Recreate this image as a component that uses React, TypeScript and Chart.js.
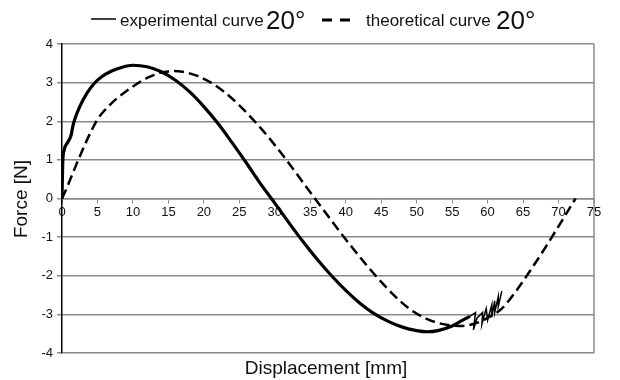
import React, { useEffect, useRef } from "react";
import { Chart, registerables } from "chart.js";
Chart.register(...registerables);

// Experimental curve (smooth part)
const expX = [0, 0.1, 0.3, 0.8, 1.3, 1.5, 1.8, 2.5, 3.5, 4.5, 5.5, 7, 8.5, 10, 12, 14, 16, 18, 20, 22, 24, 26, 28, 30, 32, 34, 36, 38, 40, 42, 44, 46, 48, 50, 51.5, 53, 55, 56.5, 57.5];
const expY = [0, 0.9, 1.25, 1.45, 1.65, 1.85, 2.05, 2.38, 2.72, 2.97, 3.14, 3.3, 3.4, 3.45, 3.41, 3.28, 3.06, 2.76, 2.38, 1.94, 1.44, 0.92, 0.38, -0.12, -0.63, -1.12, -1.58, -2.0, -2.38, -2.71, -2.98, -3.18, -3.33, -3.42, -3.45, -3.42, -3.3, -3.15, -3.05];
// Experimental curve (jagged end)
const hystX = [57.5, 58.3, 58.0, 58.5, 59.3, 59.2, 59.8, 60.0, 60.6, 60.6, 61.0, 61.0, 61.5, 61.5, 62.0];
const hystY = [-3.05, -2.95, -3.4, -3.1, -2.95, -3.25, -2.85, -3.15, -2.75, -3.05, -2.65, -2.95, -2.55, -2.8, -2.4];
// Theoretical curve
const theoX = [0, 0.5, 1, 2, 3, 4, 5, 6, 7, 8, 9, 10, 11, 12, 13, 14, 15, 15.7, 17, 19, 21, 23, 25, 27, 29, 31, 33, 35, 37, 39, 41, 43, 45, 47, 49, 51, 53, 55, 56, 58, 60, 62, 64, 66, 68, 70, 72, 72.4];
const theoY = [0, 0.2, 0.42, 0.87, 1.3, 1.7, 2.05, 2.28, 2.47, 2.63, 2.77, 2.9, 3.02, 3.12, 3.2, 3.26, 3.29, 3.3, 3.28, 3.18, 3.0, 2.74, 2.41, 2.03, 1.61, 1.15, 0.66, 0.16, -0.33, -0.82, -1.29, -1.74, -2.16, -2.54, -2.86, -3.08, -3.22, -3.29, -3.3, -3.25, -3.09, -2.85, -2.4, -1.87, -1.31, -0.72, -0.12, 0];

const xMin = 0, xMax = 75, xStep = 5;
const yMin = -4, yMax = 4, yStep = 1;

const legendExp = "experimental curve";
const legendTheo = "theoretical curve";
const legendAngle = "20°";
const xTitle = "Displacement [mm]";
const yTitle = "Force [N]";

const FONT = "'Liberation Sans', Arial, sans-serif";
const GRID = "#8a8a8a";

const pts = (xs: number[], ys: number[]) => xs.map((x, i) => ({ x, y: ys[i] }));

export default function App() {
  const ref = useRef<HTMLCanvasElement>(null);
  useEffect(() => {
    document.body.style.margin = "0";
    const canvas = ref.current!;
    const deco = {
      id: "deco",
      afterDraw(chart: any) {
        const c = chart.ctx as CanvasRenderingContext2D;
        const a = chart.chartArea;
        c.save();
        // right border
        c.strokeStyle = GRID;
        c.lineWidth = 1.5;
        c.beginPath();
        c.moveTo(a.right, a.top);
        c.lineTo(a.right, a.bottom);
        c.stroke();
        // titles
        c.fillStyle = "#111";
        c.font = `19px ${FONT}`;
        c.textAlign = "center";
        c.textBaseline = "middle";
        c.fillText(xTitle, 326, 369);
        c.save();
        c.translate(22, 199);
        c.rotate(-Math.PI / 2);
        c.fillText(yTitle, 0, 0);
        c.restore();
        // legend
        c.textAlign = "left";
        c.textBaseline = "alphabetic";
        c.strokeStyle = "#000";
        c.lineWidth = 1.5;
        c.beginPath();
        c.moveTo(91, 19);
        c.lineTo(116, 19);
        c.stroke();
        c.font = `17px ${FONT}`;
        c.fillText(legendExp, 120, 26);
        c.font = `26px ${FONT}`;
        c.fillText(legendAngle, 266, 29);
        c.lineWidth = 3;
        c.beginPath();
        c.moveTo(322, 20);
        c.lineTo(332, 20);
        c.moveTo(340, 20);
        c.lineTo(350, 20);
        c.stroke();
        c.font = `17px ${FONT}`;
        c.fillText(legendTheo, 366, 26);
        c.font = `26px ${FONT}`;
        c.fillText(legendAngle, 496, 29);
        c.restore();
      },
    };
    const chart = new Chart(canvas, {
      type: "scatter",
      data: {
        datasets: [
          {
            data: pts(expX, expY),
            showLine: true,
            borderColor: "#000",
            borderWidth: 3.2,
            pointRadius: 0,
            cubicInterpolationMode: "monotone",
          },
          {
            data: pts(hystX, hystY),
            showLine: true,
            borderColor: "#000",
            borderWidth: 1.5,
            pointRadius: 0,
            tension: 0,
          },
          {
            data: pts(theoX, theoY),
            showLine: true,
            borderColor: "#000",
            borderWidth: 2.5,
            borderDash: [10, 5],
            pointRadius: 0,
            cubicInterpolationMode: "monotone",
          },
        ],
      },
      options: {
        responsive: false,
        animation: false,
        layout: { padding: { left: 0, top: 44, right: 26, bottom: 27 } },
        plugins: { legend: { display: false }, tooltip: { enabled: false } },
        scales: {
          x: {
            type: "linear",
            min: xMin,
            max: xMax,
            position: { y: 0 } as any,
            ticks: {
              stepSize: xStep,
              autoSkip: false,
              maxRotation: 0,
              padding: 2,
              color: "#111",
              font: { family: FONT, size: 13 },
            },
            grid: { drawOnChartArea: false, drawTicks: true, tickLength: 4, color: GRID, lineWidth: 1 },
            border: { color: GRID, width: 1.5 },
          },
          y: {
            type: "linear",
            min: yMin,
            max: yMax,
            ticks: {
              stepSize: yStep,
              padding: 4,
              color: "#111",
              font: { family: FONT, size: 13 },
            },
            grid: { color: GRID, lineWidth: 1.5, tickLength: 5 },
            border: { color: "#000", width: 1.5 },
            afterFit: (s: any) => {
              s.width = 62;
            },
          },
        },
      },
      plugins: [deco],
    });
    return () => chart.destroy();
  }, []);
  return <canvas ref={ref} width={620} height={380} style={{ display: "block" }} />;
}
